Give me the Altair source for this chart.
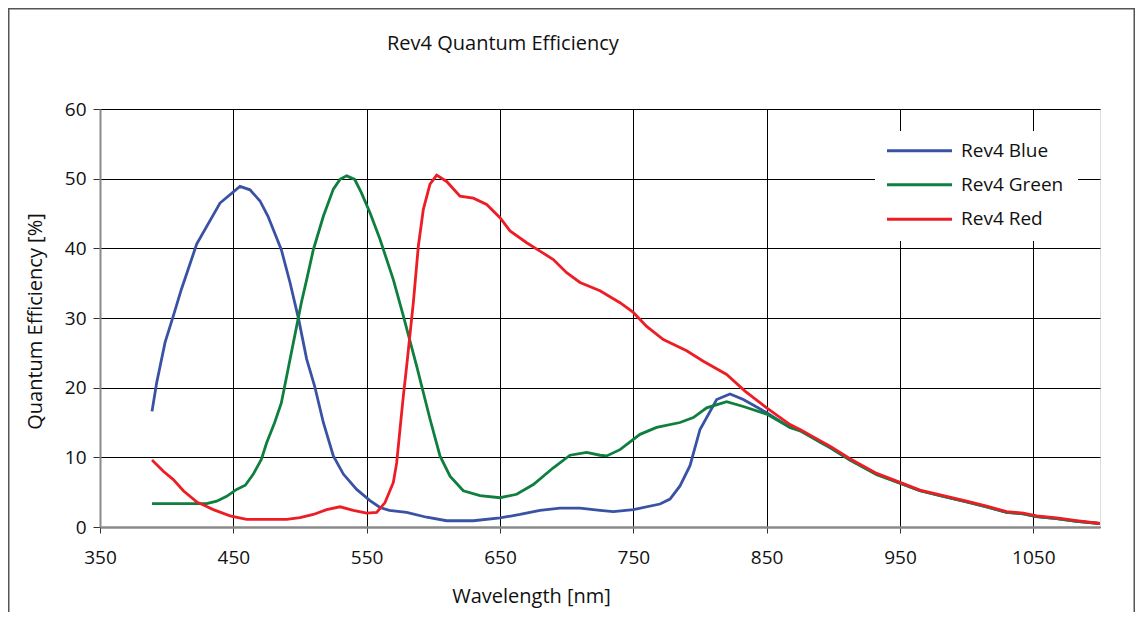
import altair as alt
import pandas as pd

FONT = "Open Sans"

blue_nm = [389, 392.5, 398.8, 405, 411, 422.5, 440, 455, 462.5, 470, 476, 486, 492.5, 499, 505, 511,
           517.5, 525, 532.5, 542.5, 552.5, 560, 567, 580, 595, 610, 630, 650, 665, 680, 695, 710,
           725, 735, 750, 770, 777.5, 785, 792.5, 800, 812.5, 822.5, 832.5, 850, 867.5, 875, 890,
           897.5, 912.5, 932.5, 950, 965, 982.5, 1000, 1015, 1030, 1042.5, 1052.5, 1067.5, 1082.5, 1100]
blue_qe = [16.6, 20.7, 26.5, 30.3, 34.1, 40.6, 46.5, 48.9, 48.4, 46.8, 44.6, 39.8, 35.1, 29.8, 24.1, 20.2,
           15.0, 10.2, 7.6, 5.4, 3.8, 2.8, 2.4, 2.1, 1.4, 0.9, 0.9, 1.3, 1.8, 2.4, 2.7, 2.7,
           2.4, 2.2, 2.5, 3.3, 4.0, 5.9, 8.8, 14.0, 18.3, 19.1, 18.3, 16.4, 14.3, 13.9, 12.2,
           11.4, 9.6, 7.6, 6.3, 5.2, 4.4, 3.6, 2.9, 2.1, 1.9, 1.5, 1.2, 0.8, 0.5]

green_nm = [389, 430, 437.5, 445, 452.5, 459, 465, 471, 475, 481, 486, 491, 496, 501, 505, 510,
            517.5, 525, 530, 535, 541, 546, 552.5, 560, 570, 577.5, 587.5, 597.5, 605, 612.5, 622.5,
            635, 650, 662.5, 675, 690, 702.5, 715, 725, 730, 740, 755, 767.5, 785, 795, 805, 820,
            832.5, 850, 867.5, 875, 890, 897.5, 912.5, 932.5, 950, 965, 982.5, 1000, 1015, 1030,
            1042.5, 1052.5, 1067.5, 1082.5, 1100]
green_qe = [3.35, 3.35, 3.7, 4.4, 5.4, 6.0, 7.6, 9.7, 12.1, 15.0, 17.8, 22.6, 27.4, 32.2, 35.5, 39.8,
            44.6, 48.5, 49.9, 50.4, 49.9, 48.0, 45.1, 41.3, 35.5, 30.3, 23.1, 15.5, 10.2, 7.3, 5.2,
            4.5, 4.2, 4.7, 6.1, 8.5, 10.3, 10.7, 10.3, 10.2, 11.1, 13.3, 14.3, 15.0, 15.7, 17.1, 18.0,
            17.3, 16.2, 14.3, 13.8, 12.2, 11.4, 9.6, 7.5, 6.3, 5.2, 4.4, 3.6, 2.9, 2.1,
            1.9, 1.5, 1.2, 0.8, 0.5]

red_nm = [389, 397.5, 405, 412.5, 422.5, 435, 447.5, 460, 490, 500, 510, 520, 530, 540, 550, 557.5,
          563.75, 570, 572.5, 575, 577.5, 580, 585, 588.75, 592.5, 597.5, 602.5, 610, 620, 630, 640,
          650, 657.5, 670, 680, 690, 700, 710, 725, 740, 750, 760, 772.5, 790, 802.5, 820, 833.75,
          850, 867.5, 875, 890, 897.5, 912.5, 932.5, 950, 965, 982.5, 1000, 1015, 1030, 1042.5,
          1052.5, 1067.5, 1082.5, 1100]
red_qe = [9.6, 8.0, 6.8, 5.2, 3.6, 2.5, 1.6, 1.1, 1.1, 1.35, 1.8, 2.5, 2.9, 2.4, 2.0, 2.1,
          3.5, 6.4, 9.2, 14.0, 18.8, 23.1, 32.2, 40.3, 45.6, 49.2, 50.5, 49.6, 47.5, 47.2, 46.3,
          44.4, 42.5, 40.8, 39.6, 38.4, 36.5, 35.1, 33.9, 32.2, 30.8, 28.8, 26.9, 25.3, 23.8, 21.9, 19.5,
          17.1, 14.7, 14.0, 12.4, 11.6, 9.8, 7.7, 6.4, 5.3, 4.5, 3.7, 3.0, 2.2, 2.0,
          1.6, 1.3, 0.9, 0.5]

chart_title = "Rev4 Quantum Efficiency"
series_names = ["Rev4 Blue", "Rev4 Green", "Rev4 Red"]
series_colors = ["#3A52A4", "#0E7F3E", "#EE1D25"]
x_ticks = [350, 450, 550, 650, 750, 850, 950, 1050]
y_ticks = [0, 10, 20, 30, 40, 50, 60]

rows = []
for name, xs, ys in zip(series_names, [blue_nm, green_nm, red_nm], [blue_qe, green_qe, red_qe]):
    for i, (x, y) in enumerate(zip(xs, ys)):
        rows.append({"series": name, "nm": x, "qe": y, "order": i})
df = pd.DataFrame(rows)

W, H = 1000, 418

lines = alt.Chart(df).mark_line(strokeWidth=2.8, clip=True).encode(
    x=alt.X("nm:Q", scale=alt.Scale(domain=[350, 1100], nice=False, zero=False),
            axis=alt.Axis(values=x_ticks, format="d", title="Wavelength [nm]", grid=True,
                          gridColor="#000000", gridWidth=1, domainColor="#8a8a8a", domainWidth=2.5,
                          tickColor="#333333", tickSize=6, labelPadding=15, labelFlush=False,
                          labelFontSize=19, labelFont=FONT, labelColor="#111111",
                          titleFont=FONT, titleFontSize=20, titleFontWeight="normal",
                          titleColor="#111111", titleX=431, titleY=69, titleBaseline="middle",
                          titleAlign="center")),
    y=alt.Y("qe:Q", scale=alt.Scale(domain=[0, 60], nice=False),
            axis=alt.Axis(values=y_ticks, title="Quantum Efficiency [%]", grid=True,
                          gridColor="#000000", gridWidth=1, domainColor="#8a8a8a", domainWidth=2,
                          tickColor="#333333", tickSize=7, labelPadding=7, labelFlush=False,
                          labelFontSize=19, labelFont=FONT, labelColor="#111111",
                          titleFont=FONT, titleFontSize=20, titleFontWeight="normal",
                          titleColor="#111111", titleX=-65, titleY=212, titleAngle=-90,
                          titleBaseline="middle", titleAlign="center")),
    color=alt.Color("series:N", scale=alt.Scale(domain=series_names, range=series_colors), legend=None),
    order="order:Q",
    detail="series:N",
)

title_mark = alt.Chart(pd.DataFrame({"t": [chart_title]})).mark_text(
    align="left", baseline="alphabetic", font=FONT, fontSize=20, color="#111111"
).encode(x=alt.value(287), y=alt.value(-59), text="t:N")

# legend box (manual)
leg_box = alt.Chart(pd.DataFrame({"a": [0]})).mark_rect(fill="white", stroke=None).encode(
    x=alt.value(775), x2=alt.value(978), y=alt.value(22), y2=alt.value(132)
)
legend_layers = [leg_box]
row_y = [41.7, 75.7, 110.2]
for name, col, ry in zip(series_names, series_colors, row_y):
    ldf = pd.DataFrame({"series": [name]})
    legend_layers.append(
        alt.Chart(ldf).mark_rule(color=col, strokeWidth=3).encode(
            x=alt.value(787), x2=alt.value(852), y=alt.value(ry))
    )
    legend_layers.append(
        alt.Chart(ldf).mark_text(align="left", baseline="middle", font=FONT, fontSize=19,
                                 color="#111111").encode(
            x=alt.value(861), y=alt.value(ry), text="series:N")
    )

frame = alt.Chart(pd.DataFrame({"a": [0]})).mark_rect(fill=None, stroke="#555555", strokeWidth=1.5).encode(
    x=alt.value(-91.25), x2=alt.value(1034.25), y=alt.value(-100.25), y2=alt.value(700)
)

chart = alt.layer(frame, lines, title_mark, *legend_layers).properties(
    width=W, height=H,
    padding={"left": 92, "top": 101, "right": 35, "bottom": 85},
    autosize=alt.AutoSizeParams(type="none"),
).configure_view(stroke=None).configure(background="white")

chart.save("out.html", embed_options={"renderer": "svg", "actions": False})
